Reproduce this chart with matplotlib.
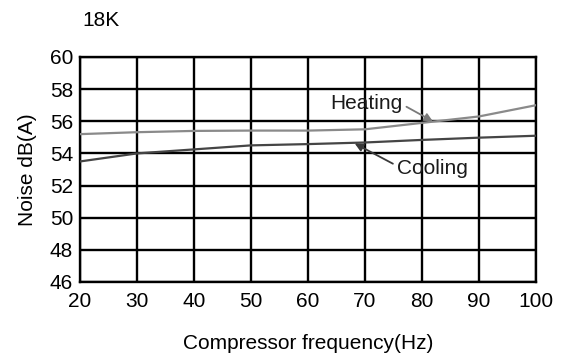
import numpy as np
import matplotlib
matplotlib.use("Agg")
import matplotlib.pyplot as plt

plt.rcParams['font.family'] = ['Liberation Sans', 'DejaVu Sans']

# ---------- DATA ----------
freq = [20, 30, 40, 50, 60, 70, 80, 90, 100]
heating = [55.2, 55.32, 55.4, 55.42, 55.42, 55.5, 55.9, 56.3, 57.0]
cooling = [53.5, 54.0, 54.25, 54.5, 54.58, 54.68, 54.84, 54.98, 55.1]

x_ticks = [20, 30, 40, 50, 60, 70, 80, 90, 100]
y_ticks = [46, 48, 50, 52, 54, 56, 58, 60]

FS = 15

# ---------- PLOT ----------
fig = plt.figure(figsize=(5.61, 3.60), dpi=100)
ax = fig.add_axes([0.1426, 0.2167, 0.8128, 0.625])

ax.plot(freq, heating, color="#8a8a8a", lw=1.6, zorder=3)
ax.plot(freq, cooling, color="#454545", lw=1.6, zorder=3)

ax.set_xlim(20, 100)
ax.set_ylim(46, 60)
ax.set_xticks(x_ticks)
ax.set_yticks(y_ticks)
ax.tick_params(axis="x", length=0, labelsize=FS, pad=7)
ax.tick_params(axis="y", length=0, labelsize=FS, pad=5)
ax.grid(True, color="black", lw=1.7)
for s in ax.spines.values():
    s.set_linewidth(1.7)
    s.set_color("black")

ax.set_xlabel("Compressor frequency(Hz)", fontsize=FS, labelpad=17)
ax.set_ylabel("Noise dB(A)", fontsize=FS, labelpad=9)

# annotations
ax.annotate("Heating", xy=(81.9, 56.0), xytext=(63.9, 57.1), fontsize=FS,
            va="center", ha="left", color="#1a1a1a",
            arrowprops=dict(arrowstyle="-|>", color="#7a7a7a", lw=1.3,
                            mutation_scale=12, shrinkA=1, shrinkB=0,
                            relpos=(1.0, 0.45)))
ax.annotate("Cooling", xy=(68.2, 54.62), xytext=(75.6, 53.05), fontsize=FS,
            va="center", ha="left", color="#1a1a1a",
            arrowprops=dict(arrowstyle="-|>", color="#3a3a3a", lw=1.3,
                            mutation_scale=12, shrinkA=1, shrinkB=0,
                            relpos=(0.0, 0.65)))

fig.text(82 / 561, 1 - 20 / 360, "18K", fontsize=FS, va="center", ha="left")

fig.savefig("out.png", dpi=100)
